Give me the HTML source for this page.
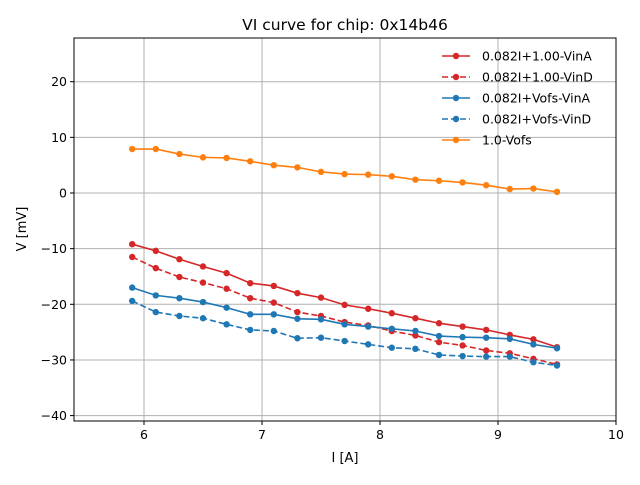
<!DOCTYPE html>
<html><head><meta charset="utf-8"><style>body{margin:0;background:#fff}svg{font-family:"DejaVu Sans","Liberation Sans",sans-serif}</style></head>
<body>
<svg id="c" width="640" height="480"></svg>
<script>
const xs=[5.9,6.1,6.3,6.5,6.7,6.9,7.1,7.3,7.5,7.7,7.9,8.1,8.3,8.5,8.7,8.9,9.1,9.3,9.5];
const redA=[-9.2,-10.4,-11.9,-13.2,-14.4,-16.2,-16.7,-18.0,-18.8,-20.1,-20.8,-21.6,-22.5,-23.4,-24.0,-24.6,-25.5,-26.3,-27.7];
const redD=[-11.5,-13.5,-15.1,-16.1,-17.2,-18.9,-19.7,-21.4,-22.1,-23.2,-23.8,-24.8,-25.6,-26.8,-27.4,-28.3,-28.8,-29.8,-30.8];
const blueA=[-17.0,-18.4,-18.9,-19.6,-20.6,-21.8,-21.8,-22.6,-22.7,-23.6,-24.0,-24.4,-24.8,-25.7,-25.9,-26.0,-26.2,-27.2,-27.9];
const blueD=[-19.4,-21.4,-22.1,-22.5,-23.6,-24.6,-24.8,-26.1,-26.0,-26.6,-27.2,-27.8,-28.0,-29.1,-29.3,-29.4,-29.4,-30.4,-31.0];
const vofs=[7.9,7.9,7.0,6.4,6.3,5.7,5.0,4.6,3.8,3.4,3.3,3.0,2.4,2.2,1.9,1.4,0.7,0.8,0.2];
const xTicks=[6,7,8,9,10];
const yTicks=[20,10,0,-10,-20,-30,-40];
const labels=["0.082I+1.00-VinA","0.082I+1.00-VinD","0.082I+Vofs-VinA","0.082I+Vofs-VinD","1.0-Vofs"];
const L=74,R=616,T=38,B=421;
const X=v=>144+(v-6)*118;
const Y=v=>193-v*5.565;
const svg=document.getElementById('c');const NS='http://www.w3.org/2000/svg';
function mk(t,a,p){const e=document.createElementNS(NS,t);for(const k in a)e.setAttribute(k,a[k]);(p||svg).appendChild(e);return e;}
let e;
xTicks.forEach(t=>{
e=mk('line',{x1:X(t),x2:X(t),y1:T,y2:B,stroke:'#b0b0b0','stroke-width':1});

mk('line',{x1:X(t),x2:X(t),y1:B,y2:B+4,stroke:'#000'});
e=mk('text',{x:X(t),y:B+18,'font-size':12.5,'text-anchor':'middle'});e.textContent=t;

});
yTicks.forEach(t=>{
e=mk('line',{x1:L,x2:R,y1:Y(t),y2:Y(t),stroke:'#b0b0b0','stroke-width':1});

mk('line',{x1:L-4,x2:L,y1:Y(t),y2:Y(t),stroke:'#000'});
e=mk('text',{x:L-7,y:Y(t)+4.5,'font-size':12.5,'text-anchor':'end'});e.textContent=String(t).replace('-','\u2212');

});
const series=[[redA,'#d62728',''],[redD,'#d62728','6,3'],[blueA,'#1f77b4',''],[blueD,'#1f77b4','6,3'],[vofs,'#ff7f0e','']];
series.forEach((s,i)=>{
const g=mk('g',{});

mk('polyline',{points:xs.map((x,j)=>X(x)+','+Y(s[0][j])).join(' '),fill:'none',stroke:s[1],'stroke-width':1.6,'stroke-dasharray':s[2]},g);
xs.forEach((x,j)=>{const c=mk('circle',{cx:X(x),cy:Y(s[0][j]),r:3.2,fill:s[1]},g);
});
});
e=mk('rect',{x:L,y:T,width:R-L,height:B-T,fill:'none',stroke:'#000','stroke-width':1});

series.forEach((s,i)=>{
const y=56+i*21;
const g=mk('g',{});

mk('line',{x1:442,x2:470,y1:y,y2:y,stroke:s[1],'stroke-width':1.6,'stroke-dasharray':s[2]},g);
mk('circle',{cx:456,cy:y,r:3.2,fill:s[1]},g);
const t=mk('text',{x:482,y:y+4.5,'font-size':12.5},g);t.textContent=labels[i];
});
e=mk('text',{x:345,y:30,'font-size':15.5,'text-anchor':'middle'});e.textContent='VI curve for chip: 0x14b46';

e=mk('text',{x:345,y:462,'font-size':13,'text-anchor':'middle'});e.textContent='I [A]';

e=mk('text',{x:0,y:0,'font-size':13,'text-anchor':'middle',transform:'translate(26,229) rotate(-90)'});e.textContent='V [mV]';

</script>
</body></html>
